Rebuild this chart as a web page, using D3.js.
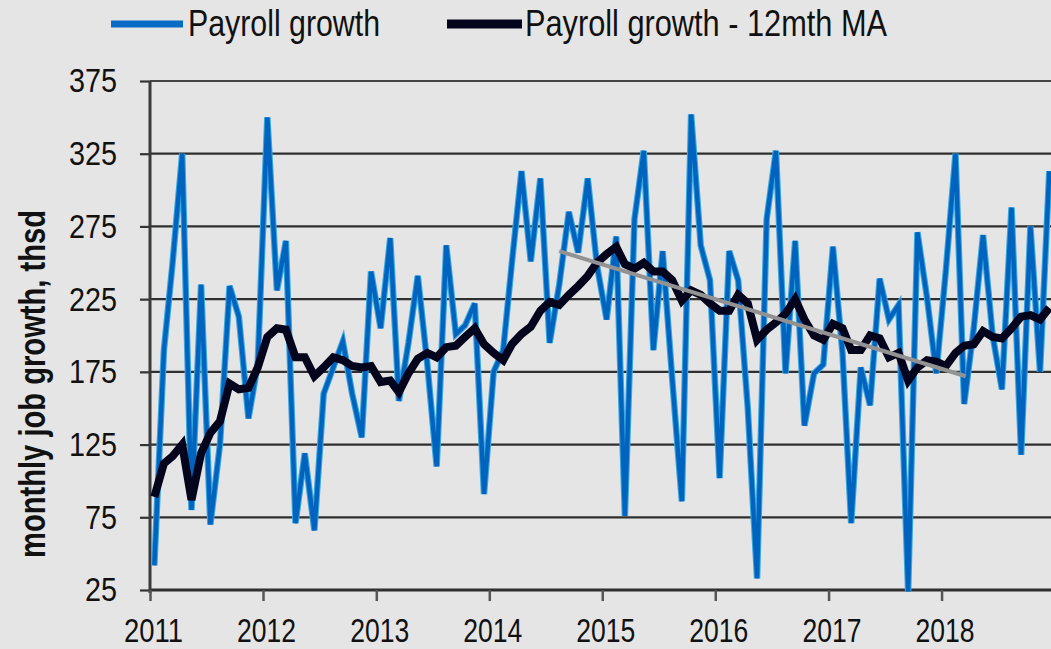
<!DOCTYPE html>
<html>
<head>
<meta charset="utf-8">
<script src="https://cdn.jsdelivr.net/npm/d3@7"></script>
<style>
    html, body { margin: 0; padding: 0; background: #e5e5e5; }
    svg { display: block; font-family: 'Liberation Sans', Arial, sans-serif; }
</style>
</head>
<body>
<div id="chart"></div>
<script>
// monthly payroll growth, thsd, Jan 2011 - Dec 2018
const payroll = [
    42, 190, 250, 325, 80, 235, 70, 125, 234, 213, 143, 180,     // 2011
    350, 231, 265, 71, 119, 66, 160, 178, 196, 160, 130, 244,    // 2012
    205, 267, 155, 195, 241, 180, 110, 262, 201, 207, 222, 91,   // 2013
    175, 190, 250, 313, 251, 308, 195, 235, 285, 257, 308, 248,  // 2014
    211, 268, 76, 280, 327, 190, 258, 170, 86, 352, 262, 238,    // 2015
    102, 258, 238, 150, 33, 280, 327, 174, 265, 138, 174, 180,   // 2016
    261, 188, 71, 178, 152, 239, 211, 221, 24, 271, 226, 174,    // 2017
    245, 325, 153, 205, 269, 200, 163, 288, 118, 275, 175, 313   // 2018
];

// 12 month moving average
const payrollMA = [
    89, 112, 117, 125, 87, 119, 133, 141, 167, 163, 164, 178,
    199, 205, 204, 185, 185, 172, 178, 185, 183, 179, 178, 179,
    168, 169, 161, 174, 184, 188, 185, 192, 193, 199, 205, 194,
    188, 183, 194, 201, 206, 217, 223, 221, 228, 234, 241, 250,
    256, 261, 249, 246, 250, 244, 244, 238, 224, 231, 228, 222,
    217, 217, 228, 222, 197, 204, 209, 215, 225, 211, 200, 197,
    208, 205, 190, 190, 200, 198, 185, 188, 169, 178, 183, 182,
    179, 188, 193, 194, 203, 199, 198, 205, 213, 214, 211, 219
];

const trendDates = ['2014-08-15', '2018-03-20'];
const trendValues = [258, 172];

const yearTicks = [2011, 2012, 2013, 2014, 2015, 2016, 2017, 2018];
const yTicks = [25, 75, 125, 175, 225, 275, 325, 375];
const seriesNames = ['Payroll growth', 'Payroll growth - 12mth MA'];
const yTitle = 'monthly job growth, thsd';

const width = 1051, height = 649;
const plotLeft = 150, plotTop = 81, plotBottom = 590;

const months = d3.timeMonth.range(new Date(2011, 0, 1), new Date(2019, 0, 1))
    .map(d => d3.timeDay.offset(d, 14));

const x = d3.scaleTime()
    .domain([new Date(2011, 0, 1), new Date(2019, 0, 1)])
    .range([plotLeft, plotLeft + 8 * 113.07]);

const y = d3.scaleLinear()
    .domain([25, 375])
    .range([plotBottom, plotTop]);

const svg = d3.select('#chart')
    .append('svg')
    .attr('width', width)
    .attr('height', height);

svg.append('rect')
    .attr('width', width)
    .attr('height', height)
    .attr('fill', '#e5e5e5');

// horizontal gridlines
svg.append('g')
    .selectAll('line')
    .data(yTicks)
    .enter()
    .append('line')
    .attr('x1', plotLeft)
    .attr('x2', width)
    .attr('y1', d => y(d))
    .attr('y2', d => y(d))
    .attr('stroke', d => d === 375 ? '#444' : '#2f2f2f')
    .attr('stroke-width', d => d === 25 ? 3 : 2.2);

// y axis
const yAxis = svg.append('g')
    .attr('transform', `translate(${plotLeft},0)`)
    .call(d3.axisLeft(y).tickValues(yTicks).tickSize(10).tickPadding(23).tickFormat(d3.format('d')));
yAxis.select('.domain').remove();
yAxis.selectAll('.tick line').attr('stroke', '#333').attr('stroke-width', 2.2);
yAxis.selectAll('.tick text')
    .attr('fill', '#111')
    .style('font-size', '34px')
    .attr('textLength', d => String(d).length * 16)
    .attr('lengthAdjust', 'spacingAndGlyphs');

svg.append('line')
    .attr('x1', plotLeft)
    .attr('x2', plotLeft)
    .attr('y1', plotTop)
    .attr('y2', plotBottom + 3)
    .attr('stroke', '#3a3a3a')
    .attr('stroke-width', 3);

// x axis
const xAxis = svg.append('g')
    .attr('transform', `translate(0,${plotBottom})`)
    .call(d3.axisBottom(x)
        .tickValues(yearTicks.map(yr => new Date(yr, 0, 1)))
        .tickSize(11)
        .tickPadding(17)
        .tickFormat(d3.timeFormat('%Y')));
xAxis.select('.domain').remove();
xAxis.selectAll('.tick line').attr('stroke', '#555').attr('stroke-width', 2.5);
xAxis.selectAll('.tick text')
    .attr('fill', '#111')
    .attr('dx', 3)
    .style('font-size', '34px')
    .attr('textLength', 59)
    .attr('lengthAdjust', 'spacingAndGlyphs');

// series
const line = d3.line()
    .x((d, i) => x(months[i]))
    .y(d => y(d));

svg.append('path')
    .datum(payroll)
    .attr('d', line)
    .attr('fill', 'none')
    .attr('stroke', '#3aa8e0')
    .attr('stroke-width', 6.5);

svg.append('path')
    .datum(payroll)
    .attr('d', line)
    .attr('fill', 'none')
    .attr('stroke', '#0064bf')
    .attr('stroke-width', 4.4);

svg.append('path')
    .datum(payrollMA)
    .attr('d', line)
    .attr('fill', 'none')
    .attr('stroke', '#04041c')
    .attr('stroke-width', 8);

const trendLine = d3.line()
    .x((d, i) => x(new Date(trendDates[i] + 'T00:00')))
    .y(d => y(d));

svg.append('path')
    .datum(trendValues)
    .attr('d', trendLine)
    .attr('fill', 'none')
    .attr('stroke', '#929292')
    .attr('stroke-width', 4);

// legend
const legend = svg.append('g');
const legendItems = [
    { name: seriesNames[0], x1: 111, x2: 183, tx: 188, len: 192, color: '#0a6cc4', w: 7 },
    { name: seriesNames[1], x1: 447, x2: 522, tx: 525, len: 362, color: '#04041c', w: 9 }
];

legend.selectAll('line')
    .data(legendItems)
    .enter()
    .append('line')
    .attr('x1', d => d.x1)
    .attr('x2', d => d.x2)
    .attr('y1', 24)
    .attr('y2', 24)
    .attr('stroke', d => d.color)
    .attr('stroke-width', d => d.w);

legend.selectAll('text')
    .data(legendItems)
    .enter()
    .append('text')
    .attr('x', d => d.tx)
    .attr('y', 36)
    .attr('fill', '#111')
    .style('font-size', '36px')
    .attr('textLength', d => d.len)
    .attr('lengthAdjust', 'spacingAndGlyphs')
    .text(d => d.name);

// y title
svg.append('text')
    .attr('transform', 'translate(45,384) rotate(-90)')
    .attr('text-anchor', 'middle')
    .attr('fill', '#111')
    .style('font-size', '36px')
    .style('font-weight', 'bold')
    .attr('textLength', 348)
    .attr('lengthAdjust', 'spacingAndGlyphs')
    .text(yTitle);
</script>
</body>
</html>
